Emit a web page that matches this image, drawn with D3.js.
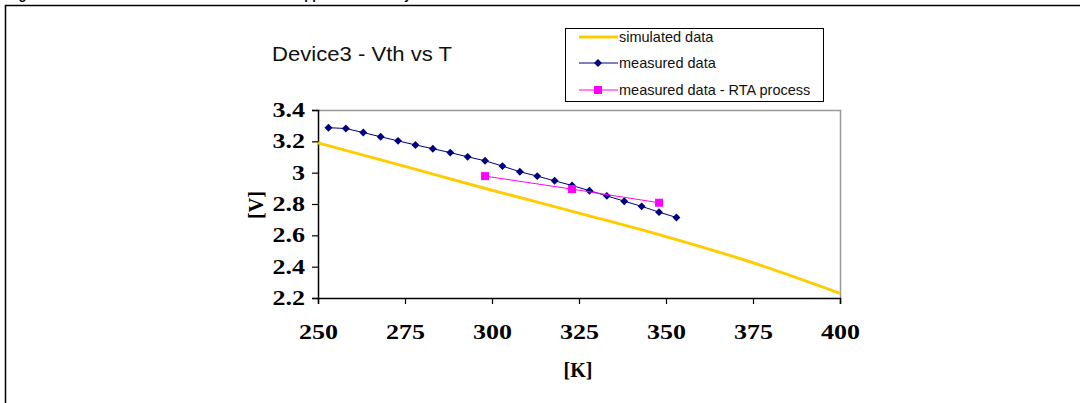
<!DOCTYPE html>
<html lang="en">
    <head>
        <meta charset="utf-8" />
        <title>Device3 - Vth vs T</title>
        <script src="https://d3js.org/d3.v7.min.js"></script>
        <style>
            body {
                margin: 0;
                background: #fff;
            }
            svg {
                display: block;
            }
        </style>
    </head>
    <body>
        <div id="chart"></div>
        <script>
            // temperature [K] / threshold voltage [V]
            var simT = [250, 275, 300, 325, 350, 375, 400];
            var simV = [3.19, 3.04, 2.888, 2.742, 2.592, 2.425, 2.23];

            var measT = [253, 258, 263, 268, 273, 278, 283, 288, 293, 298, 303,
                308, 313, 318, 323, 328, 333, 338, 343, 348, 353];
            var measV = [3.287, 3.282, 3.256, 3.229, 3.203, 3.177, 3.153, 3.128,
                3.101, 3.076, 3.042, 3.006, 2.978, 2.948, 2.918, 2.885, 2.852,
                2.818, 2.785, 2.748, 2.714];

            var rtaT = [298, 323, 348];
            var rtaV = [2.978, 2.895, 2.808];

            var xTicks = [250, 275, 300, 325, 350, 375, 400];
            var yTicks = [2.2, 2.4, 2.6, 2.8, 3, 3.2, 3.4];

            var legendNames = ["simulated data", "measured data", "measured data - RTA process"];
            var colors = ["#ffcc00", "#000080", "#ff00ff"];

            var width = 1080,
                height = 403;
            var plot = { left: 318, top: 110, right: 840, bottom: 298 };
            var serif = "Liberation Serif, Times New Roman, serif";
            var sans = "Liberation Sans, Arial, sans-serif";

            var svg = d3
                .select("#chart")
                .append("svg")
                .attr("width", width)
                .attr("height", height);

            // page frame + clipped caption of the document
            svg.append("line")
                .attr("x1", 5).attr("x2", width)
                .attr("y1", 5.5).attr("y2", 5.5)
                .attr("stroke", "#000").attr("stroke-width", 1.5);
            svg.append("line")
                .attr("x1", 5.5).attr("x2", 5.5)
                .attr("y1", 5).attr("y2", height)
                .attr("stroke", "#000").attr("stroke-width", 1.5);
            var cap = svg.append("g")
                .attr("font-family", sans)
                .attr("font-weight", "bold")
                .attr("font-size", 13);
            cap.append("text").attr("x", 7).attr("y", -1).text("Figure 6:");
            cap.append("text").attr("x", 297).attr("y", -1).text("approximation");
            cap.append("text").attr("x", 396).attr("y", -1).text("by");

            var x = d3.scaleLinear().domain([250, 400]).range([plot.left, plot.right]);
            var y = d3.scaleLinear().domain([2.2, 3.4]).range([plot.bottom, plot.top]);

            // plot area border (grey top/right)
            svg.append("path")
                .attr("d", "M" + plot.left + "," + (plot.top + 0.5) + "H" + (plot.right + 0.5) + "V" + plot.bottom)
                .attr("fill", "none")
                .attr("stroke", "#999")
                .attr("stroke-width", 1.5);

            var xAxis = svg.append("g")
                .attr("transform", "translate(0," + plot.bottom + ")")
                .call(d3.axisBottom(x).tickValues(xTicks).tickSize(6).tickFormat(d3.format("d")));
            var yAxis = svg.append("g")
                .attr("transform", "translate(" + plot.left + ",0)")
                .call(d3.axisLeft(y).tickValues(yTicks).tickSize(6).tickFormat(function (d) {
                    return String(+d.toFixed(1));
                }));

            [xAxis, yAxis].forEach(function (a) {
                a.select(".domain").attr("stroke", "#000").attr("stroke-width", 1.5);
                a.selectAll(".tick line").attr("stroke", "#000").attr("stroke-width", 1.2);
                a.selectAll("text")
                    .attr("font-family", serif)
                    .attr("font-weight", "bold")
                    .attr("font-size", 20)
                    .attr("fill", "#000");
            });
            xAxis.selectAll("text").attr("dy", "0").attr("y", 41);
            yAxis.selectAll("text").attr("x", -13);
            // the tick labels in the picture are drawn a bit wider than normal
            svg.selectAll(".tick text").each(function () {
                var w = this.getComputedTextLength();
                d3.select(this).attr("textLength", w * 1.3).attr("lengthAdjust", "spacingAndGlyphs");
            });

            svg.append("text")
                .attr("transform", "translate(263,205) rotate(-90)")
                .attr("text-anchor", "middle")
                .attr("font-family", serif)
                .attr("font-weight", "bold")
                .attr("font-size", 20)
                .text("[V]");
            svg.append("text")
                .attr("x", 578)
                .attr("y", 377)
                .attr("text-anchor", "middle")
                .attr("font-family", serif)
                .attr("font-weight", "bold")
                .attr("font-size", 20)
                .text("[K]");

            svg.append("text")
                .attr("x", 272)
                .attr("y", 61)
                .attr("font-family", sans)
                .attr("font-size", 21)
                .attr("textLength", 180)
                .attr("lengthAdjust", "spacingAndGlyphs")
                .attr("fill", "#111")
                .text("Device3 - Vth vs T");

            var line = d3.line()
                .x(function (d) { return x(d[0]); })
                .y(function (d) { return y(d[1]); });

            var sim = d3.zip(simT, simV);
            var meas = d3.zip(measT, measV);
            var rta = d3.zip(rtaT, rtaV);

            svg.append("path")
                .datum(sim)
                .attr("d", line.curve(d3.curveMonotoneX))
                .attr("fill", "none")
                .attr("stroke", colors[0])
                .attr("stroke-width", 3);
            line.curve(d3.curveLinear);

            svg.append("path")
                .datum(meas)
                .attr("d", line)
                .attr("fill", "none")
                .attr("stroke", colors[1])
                .attr("stroke-width", 1);
            var diamond = d3.symbol().type(d3.symbolDiamond2).size(40);
            svg.selectAll(".meas")
                .data(meas)
                .enter()
                .append("path")
                .attr("class", "meas")
                .attr("transform", function (d) { return "translate(" + x(d[0]) + "," + y(d[1]) + ")"; })
                .attr("d", diamond)
                .attr("fill", colors[1]);

            svg.append("path")
                .datum(rta)
                .attr("d", line)
                .attr("fill", "none")
                .attr("stroke", colors[2])
                .attr("stroke-width", 1);
            var square = d3.symbol().type(d3.symbolSquare).size(64);
            svg.selectAll(".rta")
                .data(rta)
                .enter()
                .append("path")
                .attr("class", "rta")
                .attr("transform", function (d) { return "translate(" + x(d[0]) + "," + y(d[1]) + ")"; })
                .attr("d", square)
                .attr("fill", colors[2]);

            // legend
            var legend = svg.append("g");
            legend.append("rect")
                .attr("x", 565.5).attr("y", 28.5)
                .attr("width", 258).attr("height", 73)
                .attr("fill", "#fff")
                .attr("stroke", "#000")
                .attr("stroke-width", 1);
            var rows = [37, 63, 90];
            legendNames.forEach(function (name, i) {
                var g = legend.append("g").attr("transform", "translate(0," + rows[i] + ")");
                g.append("line")
                    .attr("x1", 579).attr("x2", 618)
                    .attr("stroke", colors[i])
                    .attr("stroke-width", i === 0 ? 3 : 1);
                if (i === 1) {
                    g.append("path").attr("transform", "translate(598,0)").attr("d", diamond).attr("fill", colors[1]);
                }
                if (i === 2) {
                    g.append("path").attr("transform", "translate(598,0)").attr("d", square).attr("fill", colors[2]);
                }
                g.append("text")
                    .attr("x", 619)
                    .attr("y", 5)
                    .attr("font-family", sans)
                    .attr("font-size", 14.5)
                    .attr("fill", "#111")
                    .text(name);
            });
        </script>
    </body>
</html>
